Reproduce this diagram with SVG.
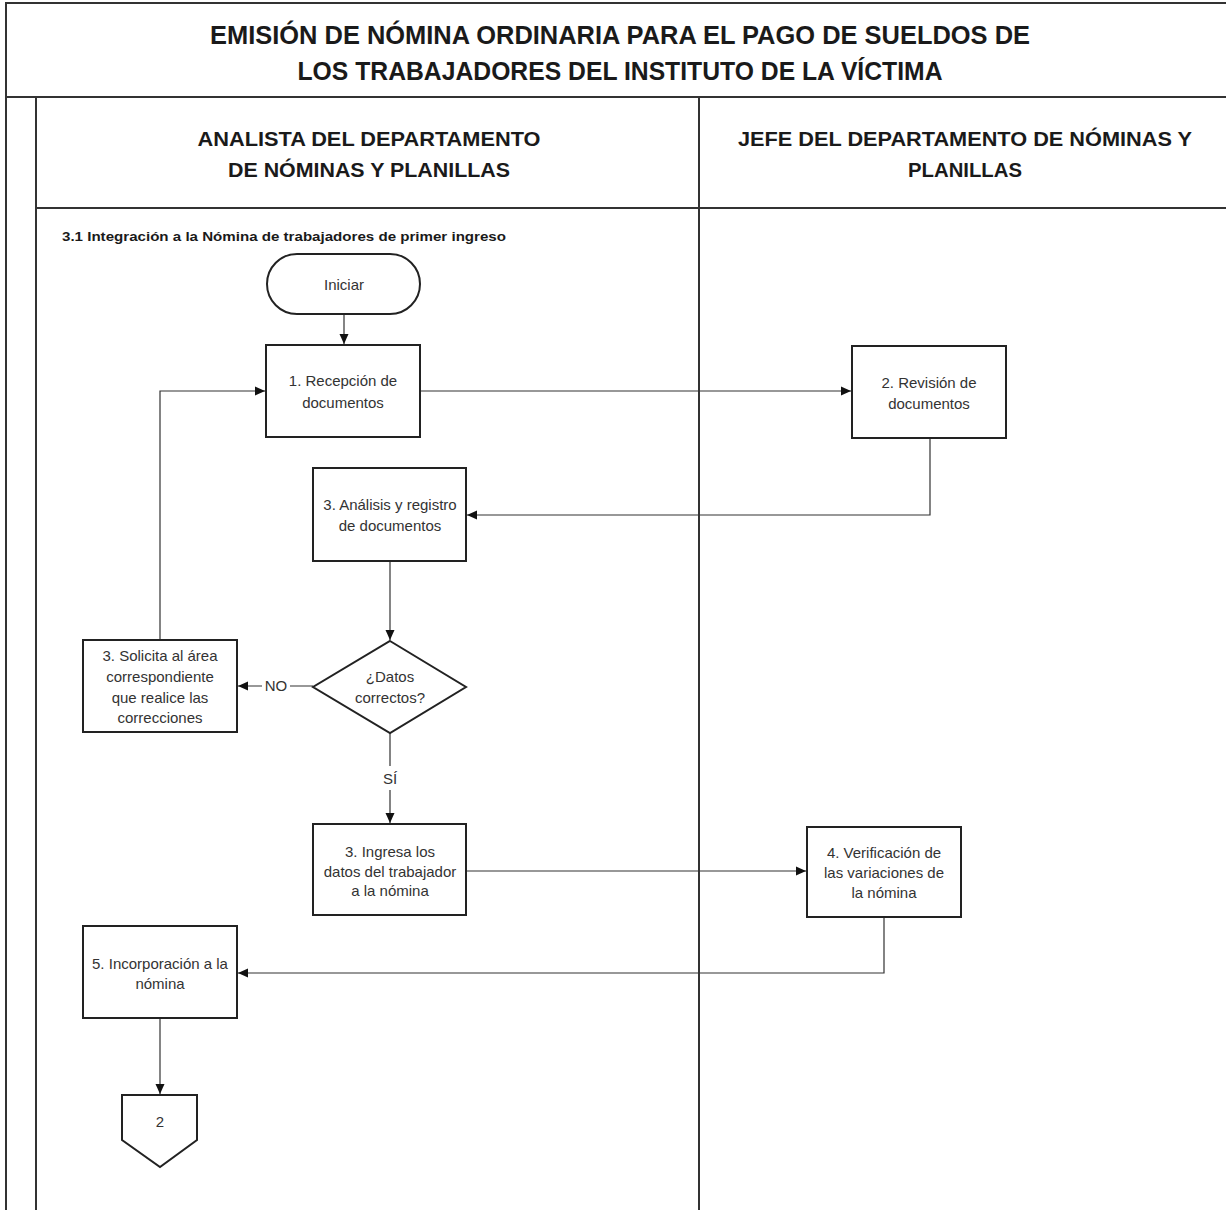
<svg xmlns="http://www.w3.org/2000/svg" width="1226" height="1210" viewBox="0 0 1226 1210">
  <defs>
    <marker id="arrow" markerWidth="12" markerHeight="12" refX="10" refY="6" orient="auto" markerUnits="userSpaceOnUse">
      <path d="M0,1.5 L10,6 L0,10.5 Z" fill="#111"/>
    </marker>
    <style>
      .frame { fill: none; stroke: #333; stroke-width: 2; }
      .shape { fill: #fff; stroke: #222; stroke-width: 2; }
      .conn { fill: none; stroke: #333; stroke-width: 1.2; }
      .title { font-family: "Liberation Sans", Arial, sans-serif; font-weight: bold; font-size: 25px; fill: #1a1a1a; text-anchor: middle; }
      .lane { font-family: "Liberation Sans", Arial, sans-serif; font-weight: bold; font-size: 20px; fill: #1a1a1a; text-anchor: middle; }
      .sub { font-family: "Liberation Sans", Arial, sans-serif; font-weight: bold; font-size: 12.5px; fill: #1a1a1a; }
      .lbl { font-family: "Liberation Sans", Arial, sans-serif; font-size: 15px; fill: #333; text-anchor: middle; }
    </style>
  </defs>

  <rect width="1226" height="1210" fill="#fff"/>

  <!-- page frame and swimlanes -->
  <g id="frame">
    <path class="frame" d="M6,1210 V3 H1226"/>
    <path class="frame" d="M6,97 H1226"/>
    <path class="frame" d="M36,97 V1210"/>
    <path class="frame" d="M699,97 V1210"/>
    <path class="frame" d="M36,208 H1226"/>
  </g>

  <g id="heading">
    <text class="title" x="620" y="44" textLength="820" lengthAdjust="spacingAndGlyphs">EMISIÓN DE NÓMINA ORDINARIA PARA EL PAGO DE SUELDOS DE</text>
    <text class="title" x="620" y="80" textLength="645" lengthAdjust="spacingAndGlyphs">LOS TRABAJADORES DEL INSTITUTO DE LA VÍCTIMA</text>
  </g>

  <g id="lane-analista">
    <text class="lane" x="369" y="146" textLength="343" lengthAdjust="spacingAndGlyphs">ANALISTA DEL DEPARTAMENTO</text>
    <text class="lane" x="369" y="177" textLength="282" lengthAdjust="spacingAndGlyphs">DE NÓMINAS Y PLANILLAS</text>
  </g>
  <g id="lane-jefe">
    <text class="lane" x="965" y="146" textLength="454" lengthAdjust="spacingAndGlyphs">JEFE DEL DEPARTAMENTO DE NÓMINAS Y</text>
    <text class="lane" x="965" y="177" textLength="114" lengthAdjust="spacingAndGlyphs">PLANILLAS</text>
  </g>

  <text class="sub" x="62" y="241" textLength="444" lengthAdjust="spacingAndGlyphs">3.1 Integración a la Nómina de trabajadores de primer ingreso</text>

  <!-- connectors -->
  <g id="connectors">
    <path class="conn" d="M344,314 V344" marker-end="url(#arrow)"/>
    <path class="conn" d="M420,391 H851" marker-end="url(#arrow)"/>
    <path class="conn" d="M930,438 V515 H467" marker-end="url(#arrow)"/>
    <path class="conn" d="M390,561 V640" marker-end="url(#arrow)"/>
    <path class="conn" d="M313,686 H290 M262,686 H238" marker-end="url(#arrow)"/>
    <path class="conn" d="M160,640 V391 H265" marker-end="url(#arrow)"/>
    <path class="conn" d="M390,733 V766 M390,790 V823" marker-end="url(#arrow)"/>
    <path class="conn" d="M466,871 H806" marker-end="url(#arrow)"/>
    <path class="conn" d="M884,917 V973 H238" marker-end="url(#arrow)"/>
    <path class="conn" d="M160,1018 V1094" marker-end="url(#arrow)"/>
    <text class="lbl" x="276" y="691">NO</text>
    <text class="lbl" x="390" y="784">SÍ</text>
  </g>

  <!-- process nodes -->
  <g id="n-iniciar">
    <rect class="shape" x="267" y="254" width="153" height="60" rx="30" ry="30"/>
    <text class="lbl" x="344" y="290">Iniciar</text>
  </g>
  <g id="n-recepcion">
    <rect class="shape" x="266" y="345" width="154" height="92"/>
    <text class="lbl" x="343" y="386">1. Recepción de</text>
    <text class="lbl" x="343" y="408">documentos</text>
  </g>
  <g id="n-revision">
    <rect class="shape" x="852" y="346" width="154" height="92"/>
    <text class="lbl" x="929" y="388">2. Revisión de</text>
    <text class="lbl" x="929" y="409">documentos</text>
  </g>
  <g id="n-analisis">
    <rect class="shape" x="313" y="468" width="153" height="93"/>
    <text class="lbl" x="390" y="510">3. Análisis  y registro</text>
    <text class="lbl" x="390" y="531">de documentos</text>
  </g>
  <g id="n-decision">
    <polygon class="shape" points="390,641 466,687 390,733 313,687"/>
    <text class="lbl" x="390" y="682">¿Datos</text>
    <text class="lbl" x="390" y="703">correctos?</text>
  </g>
  <g id="n-solicita">
    <rect class="shape" x="83" y="640" width="154" height="92"/>
    <text class="lbl" x="160" y="661">3. Solicita al área</text>
    <text class="lbl" x="160" y="682">correspondiente</text>
    <text class="lbl" x="160" y="703">que realice las</text>
    <text class="lbl" x="160" y="723">correcciones</text>
  </g>
  <g id="n-ingresa">
    <rect class="shape" x="313" y="824" width="153" height="91"/>
    <text class="lbl" x="390" y="857">3. Ingresa los</text>
    <text class="lbl" x="390" y="877">datos del trabajador</text>
    <text class="lbl" x="390" y="896">a la nómina</text>
  </g>
  <g id="n-verificacion">
    <rect class="shape" x="807" y="827" width="154" height="90"/>
    <text class="lbl" x="884" y="858">4. Verificación de</text>
    <text class="lbl" x="884" y="878">las variaciones de</text>
    <text class="lbl" x="884" y="898">la nómina</text>
  </g>
  <g id="n-incorporacion">
    <rect class="shape" x="83" y="926" width="154" height="92"/>
    <text class="lbl" x="160" y="969">5. Incorporación a la</text>
    <text class="lbl" x="160" y="989">nómina</text>
  </g>
  <g id="n-conector-2">
    <polygon class="shape" points="122,1095 197,1095 197,1140 160,1167 122,1140"/>
    <text class="lbl" x="160" y="1127">2</text>
  </g>
</svg>
